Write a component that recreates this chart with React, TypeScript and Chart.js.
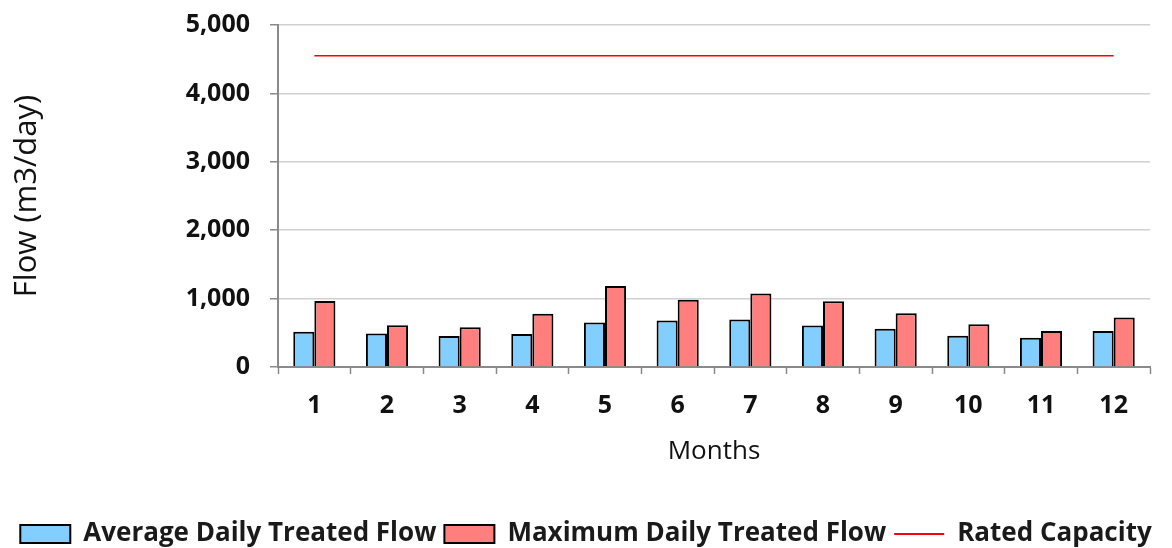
import React, { useEffect, useRef } from "react";
import { Chart, registerables } from "chart.js";

Chart.register(...registerables);

const months = ["1", "2", "3", "4", "5", "6", "7", "8", "9", "10", "11", "12"];
const averageFlow = [517, 488, 454, 483, 649, 678, 693, 605, 561, 458, 429, 527];
const maximumFlow = [966, 610, 581, 780, 1186, 985, 1073, 962, 786, 625, 527, 722];
const ratedCapacity = [4550, 4550, 4550, 4550, 4550, 4550, 4550, 4550, 4550, 4550, 4550, 4550];
const yTicks = [0, 1000, 2000, 3000, 4000, 5000];

const FONT = "'Open Sans', sans-serif";

export default function App() {
  const ref = useRef<HTMLCanvasElement>(null);
  useEffect(() => {
    if (!ref.current) return;
    const chart = new Chart(ref.current, {
      type: "bar",
      data: {
        labels: months,
        datasets: [
          {
            type: "bar",
            label: "Average Daily Treated Flow",
            data: averageFlow,
            backgroundColor: "#82CFFF",
            borderColor: "#000000",
            borderWidth: 2,
            order: 2,
          },
          {
            type: "bar",
            label: "Maximum Daily Treated Flow",
            data: maximumFlow,
            backgroundColor: "#FF7F7F",
            borderColor: "#000000",
            borderWidth: 2,
            order: 2,
          },
          {
            type: "line",
            label: "Rated Capacity",
            data: ratedCapacity,
            borderColor: "#FF0000",
            backgroundColor: "#FF0000",
            borderWidth: 1.5,
            pointRadius: 0,
            order: 1,
          } as any,
        ],
      },
      options: {
        animation: false,
        responsive: false,
        maintainAspectRatio: false,
        layout: { padding: { top: 25, right: 0, left: 0, bottom: -9 } },
        datasets: { bar: { barPercentage: 1, categoryPercentage: 0.58 } },
        plugins: {
          tooltip: { enabled: false },
          legend: {
            position: "bottom",
            labels: {
              font: { family: FONT, size: 26, weight: "bold" },
              color: "#1a1a1a",
              usePointStyle: true,
              pointStyleWidth: 50,
              boxHeight: 18,
              padding: 8,
              sort: (a: any, b: any) => a.datasetIndex - b.datasetIndex,
              generateLabels: (c: any) => {
                const items = Chart.defaults.plugins.legend.labels.generateLabels(c);
                return items.map((it: any) => {
                  if (it.datasetIndex === 2) {
                    return { ...it, pointStyle: "line", lineWidth: 2, strokeStyle: "#FF0000" };
                  }
                  return { ...it, pointStyle: "rect", lineWidth: 2, strokeStyle: "#000000" };
                });
              },
            },
          },
        },
        scales: {
          x: {
            grid: {
              drawOnChartArea: false,
              tickLength: 7,
              tickColor: "#8a8a8a",
              tickWidth: 1.5,
              offset: true,
            },
            border: { color: "#8a8a8a", width: 2 },
            ticks: { font: { family: FONT, size: 25, weight: "bold" }, color: "#111", padding: 17 },
            title: {
              display: true,
              text: "Months",
              font: { family: FONT, size: 26 },
              color: "#111",
              padding: { top: 0, bottom: 46 },
            },
            afterFit: (s: any) => { s.height = 146; },
          },
          y: {
            min: 0,
            max: 5000,
            afterBuildTicks: (s: any) => { s.ticks = yTicks.map((v) => ({ value: v })); },
            ticks: {
              font: { family: FONT, size: 25, weight: "bold" },
              color: "#111",
              padding: 20,
              callback: (v: any) => Number(v).toLocaleString("en-US"),
            },
            grid: { color: "#d0d0d0", lineWidth: 1.5, tickLength: 8, tickColor: "#8a8a8a" },
            border: { color: "#8a8a8a", width: 2 },
            title: {
              display: true,
              text: "Flow (m3/day)",
              font: { family: FONT, size: 31 },
              color: "#111",
              padding: { top: 9, bottom: 0 },
            },
            afterFit: (s: any) => { s.width = 278; s.paddingTop = 0; s.paddingBottom = 0; },
          },
          yRight: {
            position: "right",
            display: true,
            grid: { display: false, drawTicks: false },
            border: { display: false },
            ticks: { display: false },
            afterFit: (s: any) => { s.width = 22; s.paddingTop = 0; s.paddingBottom = 0; },
          },
        },
      },
    });
    return () => chart.destroy();
  }, []);
  return (
    <div style={{ position: "absolute", left: 0, top: 0, width: 1172, height: 548 }}>
      <canvas ref={ref} width={1172} height={548} style={{ width: 1172, height: 548 }} />
    </div>
  );
}
